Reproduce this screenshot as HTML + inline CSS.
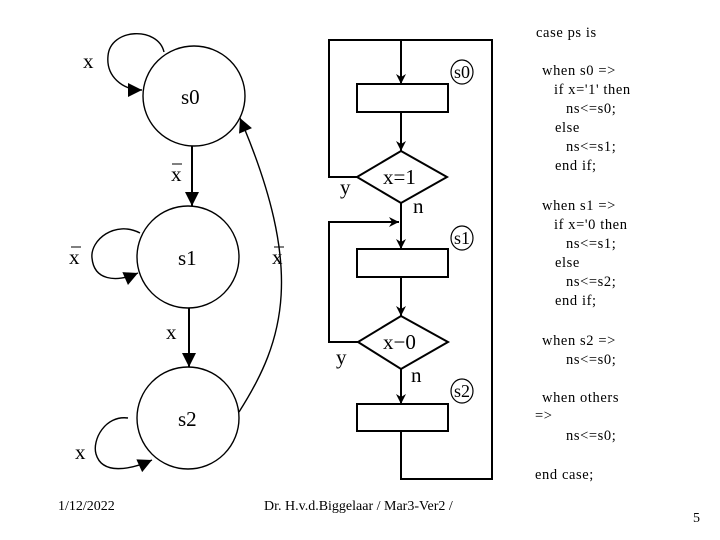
<!DOCTYPE html>
<html><head><meta charset="utf-8"><style>
html,body{margin:0;padding:0;background:#fff;}
svg{display:block;}
text{font-family:"Liberation Serif",serif;fill:#000;}
.c{font-size:14px;}
.k{font-size:14.5px;letter-spacing:0.6px;}
.b{font-size:21px;}
.m{font-size:18px;}
</style></head><body>
<svg width="720" height="540" viewBox="0 0 720 540" xmlns="http://www.w3.org/2000/svg">
<defs>
<marker id="a" viewBox="0 0 10 10" refX="10" refY="5" markerWidth="10" markerHeight="10" markerUnits="userSpaceOnUse" orient="auto"><path d="M0,0 L10,5 L0,10 L3,5 z"/></marker>
<marker id="A" viewBox="0 0 10 10" refX="10" refY="5" markerWidth="18" markerHeight="14" markerUnits="userSpaceOnUse" orient="auto"><path d="M0,0 L10,5 L0,10 z"/></marker>
</defs>
<g fill="none" stroke="#000" stroke-width="1.4">
<ellipse cx="194" cy="96" rx="51" ry="50"/>
<ellipse cx="188" cy="257" rx="51" ry="51"/>
<ellipse cx="188" cy="418" rx="51" ry="51"/>
<path d="M192 146 V206" stroke-width="2" marker-end="url(#A)"/>
<path d="M189 308 V367" stroke-width="2" marker-end="url(#A)"/>
<path d="M164 52 C158 26 110 28 108 56 C106 76 122 90 142 90" marker-end="url(#A)"/>
<path d="M140 233 C115 220 90 240 92 258 C94 280 115 283 138 273" marker-end="url(#A)"/>
<path d="M128 418 C105 415 92 440 96 454 C102 475 130 470 152 460" marker-end="url(#A)"/>
<path d="M239 412 C285 340 305 270 240 118" marker-end="url(#A)"/>
</g>
<text class="b" x="83" y="68">x</text>
<text class="b" x="181" y="104">s0</text>
<text class="b" x="171" y="181">x</text><line x1="172" y1="164" x2="182" y2="164" stroke="#000"/>
<text class="b" x="69" y="264">x</text><line x1="71" y1="247" x2="81" y2="247" stroke="#000"/>
<text class="b" x="272" y="264">x</text><line x1="274" y1="247" x2="284" y2="247" stroke="#000"/>
<text class="b" x="178" y="265">s1</text>
<text class="b" x="166" y="339">x</text>
<text class="b" x="178" y="426">s2</text>
<text class="b" x="75" y="459">x</text>
<g fill="none" stroke="#000" stroke-width="2">
<path d="M357 177 H329 V40 H492 V479 H401 V431"/>
<path d="M401 40 V84" marker-end="url(#a)"/>
<rect x="357" y="84" width="91" height="28"/>
<path d="M401 112 V151" marker-end="url(#a)"/>
<path d="M401 151 L447 177 L401 203 L357 177 Z"/>
<path d="M401 203 V249" marker-end="url(#a)"/>
<path d="M358 342 H329 V222 H399" marker-end="url(#a)"/>
<rect x="357" y="249" width="91" height="28"/>
<path d="M401 277 V316" marker-end="url(#a)"/>
<path d="M401 316 L448 342 L401 369 L358 342 Z"/>
<path d="M401 369 V404" marker-end="url(#a)"/>
<rect x="357" y="404" width="91" height="27"/>
</g>
<g fill="#fff" stroke="#000" stroke-width="1.2">
<ellipse cx="462" cy="72" rx="11" ry="12"/>
<ellipse cx="462" cy="238" rx="11" ry="12"/>
<ellipse cx="462" cy="391" rx="11" ry="12"/>
</g>
<text class="m" x="462" y="78" text-anchor="middle">s0</text>
<text class="m" x="462" y="244" text-anchor="middle">s1</text>
<text class="m" x="462" y="397" text-anchor="middle">s2</text>
<text class="b" x="383" y="184">x=1</text>
<text class="b" x="340" y="194">y</text>
<text class="b" x="413" y="213">n</text>
<text class="b" x="383" y="349">x−0</text>
<text class="b" x="336" y="364">y</text>
<text class="b" x="411" y="382">n</text>
<g class="k">
<text x="536" y="37">case ps is</text>
<text x="542" y="75">when s0 =&gt;</text>
<text x="554" y="94">if x='1' then</text>
<text x="566" y="113">ns&lt;=s0;</text>
<text x="555" y="132">else</text>
<text x="566" y="151">ns&lt;=s1;</text>
<text x="555" y="170">end if;</text>
<text x="542" y="210">when s1 =&gt;</text>
<text x="554" y="229">if x='0 then</text>
<text x="566" y="248">ns&lt;=s1;</text>
<text x="555" y="267">else</text>
<text x="566" y="286">ns&lt;=s2;</text>
<text x="555" y="305">end if;</text>
<text x="542" y="345">when s2 =&gt;</text>
<text x="566" y="364">ns&lt;=s0;</text>
<text x="542" y="402">when others</text>
<text x="535" y="420">=&gt;</text>
<text x="566" y="440">ns&lt;=s0;</text>
<text x="535" y="479">end case;</text>
</g>
<g class="c">
<text x="58" y="510">1/12/2022</text>
<text x="264" y="510">Dr. H.v.d.Biggelaar / Mar3-Ver2 /</text>
<text x="693" y="522">5</text>
</g>
</svg>
</body></html>
